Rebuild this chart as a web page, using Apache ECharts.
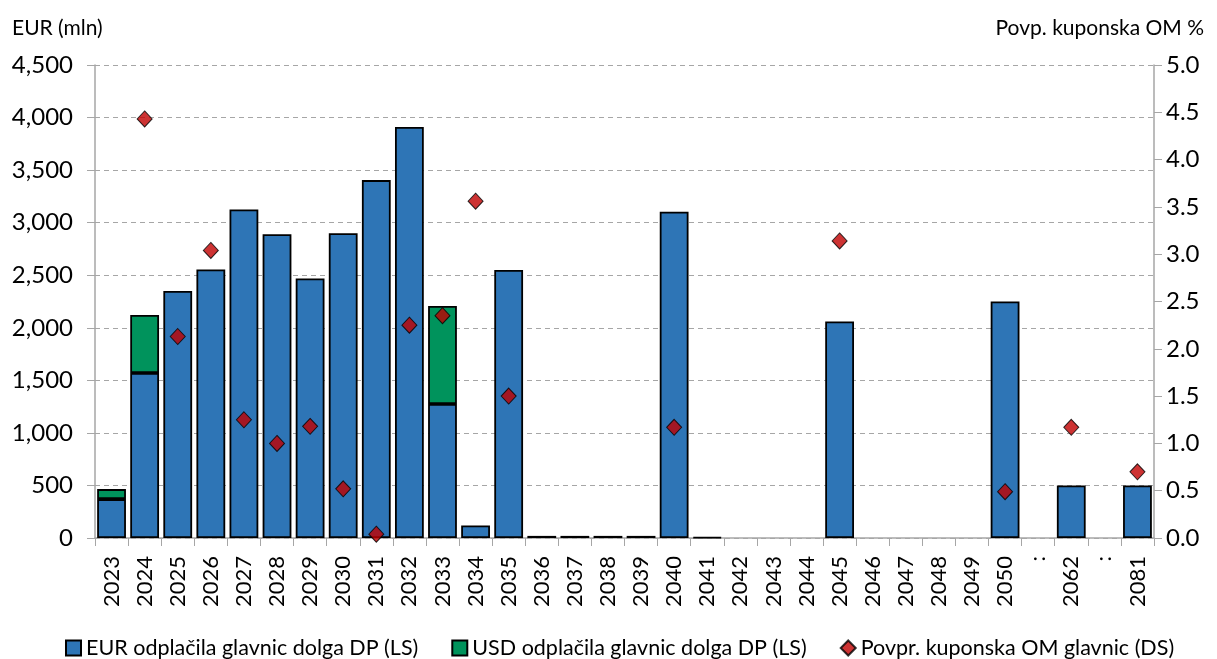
<!DOCTYPE html>
<html>
<head>
<meta charset="utf-8">
<script src="https://cdn.jsdelivr.net/npm/echarts@6/dist/echarts.min.js"></script>
<style>
  html, body { margin: 0; padding: 0; background: #fff; }
  #chart { width: 1217px; height: 659px; }
</style>
</head>
<body>
<div id="chart"></div>
<script>
// categories (":" = skipped years)
const years = [
  "2023", "2024", "2025", "2026", "2027", "2028", "2029", "2030", "2031", "2032",
  "2033", "2034", "2035", "2036", "2037", "2038", "2039", "2040", "2041", "2042",
  "2043", "2044", "2045", "2046", "2047", "2048", "2049", "2050", ":", "2062", ":", "2081",
];

// EUR principal repayments (mln EUR)
const eurRepay = [
  370, 1570, 2350, 2555, 3125, 2890, 2470, 2900, 3405, 3910,
  1275, 120, 2550, 20, 20, 20, 20, 3105, 8, 0,
  0, 0, 2060, 0, 0, 0, 0, 2250, null, 500, null, 500,
];

// USD principal repayments (mln EUR)
const usdRepay = [
  95, 552, 0, 0, 0, 0, 0, 0, 0, 0,
  932, 0, 0, 0, 0, 0, 0, 0, 0, 0,
  0, 0, 0, 0, 0, 0, 0, 0, null, 0, null, 0,
];

// average coupon (%)
const avgCoupon = [
  null, 4.43, 2.13, 3.04, 1.25, 1.0, 1.18, 0.52, 0.04, 2.25,
  2.35, 3.56, 1.5, null, null, null, null, 1.17, null, null,
  null, null, 3.14, null, null, null, null, 0.49, null, 1.17, null, 0.7,
];

const leftTicks = { min: 0, max: 4500, interval: 500 };
const rightTicks = { min: 0, max: 5, interval: 0.5 };

const font = "Lato, 'Open Sans', sans-serif";
const noZero = (arr) => arr.map((v) => (v === 0 ? null : v));

const chart = echarts.init(document.getElementById("chart"));

chart.setOption({
  animation: false,
  textStyle: { fontFamily: font },
  grid: { left: 95, right: 63, top: 65, bottom: 121 },
  legend: {
    top: 636,
    left: 65,
    padding: 0,
    itemGap: 33,
    itemWidth: 15,
    itemHeight: 15,
    textStyle: { fontSize: 21.5, lineHeight: 24, color: "#000", fontFamily: font },
    data: [
      { name: "EUR odplačila glavnic dolga DP (LS)", icon: "rect" },
      { name: "USD odplačila glavnic dolga DP (LS)", icon: "rect" },
      { name: "Povpr. kuponska OM glavnic (DS)", icon: "diamond" },
    ],
  },
  xAxis: {
    type: "category",
    data: years,
    boundaryGap: true,
    axisLine: { lineStyle: { color: "#a6a6a6", width: 1.5 } },
    axisTick: { show: true, alignWithLabel: false, length: 8, lineStyle: { color: "#a6a6a6" } },
    axisLabel: { rotate: 90, fontSize: 22, color: "#000", margin: 18, interval: 0 },
  },
  yAxis: [
    {
      type: "value",
      ...leftTicks,
      name: "EUR (mln)",
      nameLocation: "end",
      nameGap: 26,
      nameTextStyle: { fontSize: 21, color: "#000", align: "left", padding: [0, 0, 0, -83] },
      axisLine: { show: true, lineStyle: { color: "#a6a6a6", width: 1.5 } },
      axisTick: { show: true, length: 8, lineStyle: { color: "#a6a6a6" } },
      axisLabel: {
        fontSize: 24,
        color: "#000",
        margin: 22,
        formatter: (v) => v.toLocaleString("en-US"),
      },
      splitLine: { show: true, lineStyle: { color: "#a6a6a6", type: [5, 4], width: 1.2 } },
    },
    {
      type: "value",
      ...rightTicks,
      name: "Povp. kuponska OM %",
      nameLocation: "end",
      nameGap: 26,
      nameTextStyle: { fontSize: 21, color: "#000", align: "right", padding: [0, -50, 0, 0] },
      axisLine: { show: true, lineStyle: { color: "#a6a6a6", width: 1.5 } },
      axisTick: { show: true, length: 8, lineStyle: { color: "#a6a6a6" } },
      axisLabel: {
        fontSize: 24,
        color: "#000",
        margin: 12,
        formatter: (v) => v.toFixed(1),
      },
      splitLine: { show: false },
    },
  ],
  series: [
    {
      name: "EUR odplačila glavnic dolga DP (LS)",
      type: "bar",
      stack: "repay",
      data: noZero(eurRepay),
      barCategoryGap: "13%",
      itemStyle: { color: "#2e75b6", borderColor: "#000", borderWidth: 1.8 },
    },
    {
      name: "USD odplačila glavnic dolga DP (LS)",
      type: "bar",
      stack: "repay",
      data: noZero(usdRepay),
      itemStyle: { color: "#00935c", borderColor: "#000", borderWidth: 1.8 },
    },
    {
      name: "Povpr. kuponska OM glavnic (DS)",
      type: "scatter",
      yAxisIndex: 1,
      data: avgCoupon,
      symbol: "diamond",
      symbolSize: [15, 16],
      itemStyle: { color: "#c00000", borderColor: "#000", borderWidth: 1 },
      z: 5,
    },
  ],
});
</script>
</body>
</html>
